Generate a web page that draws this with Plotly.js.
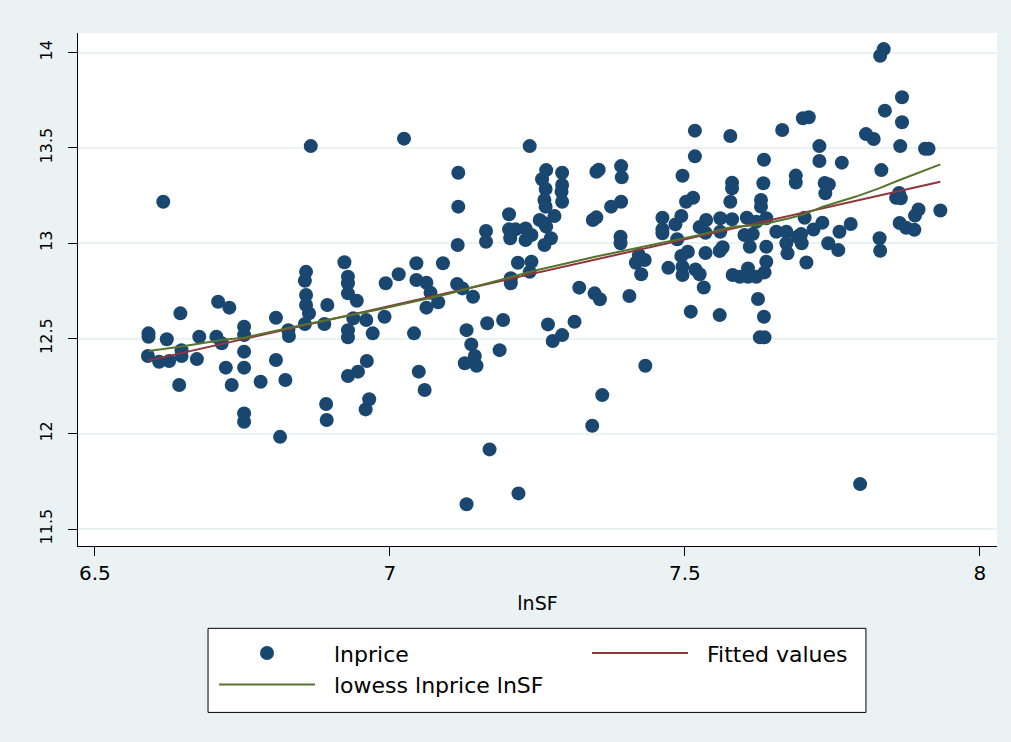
<!DOCTYPE html>
<html><head><meta charset="utf-8">
<script src="https://cdn.plot.ly/plotly-3.0.1.min.js"></script>
<style>html,body{margin:0;padding:0;background:#eaf2f3}</style>
</head><body><div id="chart" style="width:1011px;height:742px"></div>
<script>
const lnSF = [
6.591,6.591,6.590,6.609,6.626,6.622,6.645,6.647,6.647,6.643,
6.673,6.677,6.706,6.715,6.709,6.728,6.722,6.732,6.753,6.753,
6.753,6.753,6.753,6.753,6.781,6.807,6.807,6.823,6.828,6.829,
6.814,6.858,6.856,6.858,6.858,6.863,6.856,6.889,6.894,6.892,
6.893,6.923,6.929,6.929,6.929,6.944,6.938,6.929,6.929,6.929,
6.946,6.961,6.960,6.971,6.965,6.959,6.616,6.866,
6.993,6.991,7.015,7.024,7.045,7.045,7.062,7.069,7.082,7.062,
7.041,7.049,7.059,7.090,7.116,7.116,7.115,7.114,7.123,7.141,
7.130,7.138,7.144,7.127,7.147,7.165,7.192,7.186,7.169,7.130,
7.218,7.163,7.163,7.202,7.202,7.213,7.204,7.230,7.230,7.240,
7.217,7.240,7.237,7.205,7.205,7.237,7.265,7.258,7.264,7.262,
7.264,7.254,7.262,7.279,7.265,7.273,7.262,7.292,7.292,7.291,
7.292,7.268,7.276,7.292,7.313,7.321,7.347,7.356,7.343,7.360,
7.350,7.354,7.344,7.350,
7.375,7.392,7.392,7.393,7.391,7.391,7.406,7.433,7.422,7.432,
7.417,7.426,7.462,7.462,7.462,7.472,7.494,7.484,7.487,7.494,
7.505,7.496,7.496,7.517,7.517,7.496,7.502,7.514,7.525,7.536,
7.535,7.518,7.525,7.532,7.510,7.535,7.559,7.564,7.560,7.560,
7.559,7.577,7.580,7.580,7.577,7.580,7.581,7.593,7.607,7.607,
7.621,7.638,7.635,7.605,7.638,7.601,7.615,7.610,7.638,7.634,
7.633,7.629,7.629,7.624,7.634,7.627,7.635,7.655,7.672,7.672,
7.674,7.691,7.665,7.688,7.688,7.621,
7.700,7.710,7.728,7.728,7.766,7.737,7.744,7.738,7.703,7.697,
7.698,7.718,7.733,7.762,7.781,7.743,7.760,7.706,7.830,7.831,
7.864,7.875,7.889,7.890,7.896,7.933,7.863,7.858,7.866,7.833,
7.865,7.868,7.868,7.839,7.807,7.820,7.907,7.913,7.837,7.831,
7.797
];
const lnprice = [
12.527,12.509,12.408,12.378,12.382,12.496,12.632,12.439,12.408,12.256,
12.392,12.509,12.509,12.475,12.693,12.662,12.347,12.256,12.562,12.518,
12.431,12.347,12.107,12.063,12.273,12.609,12.387,12.282,12.544,12.513,
11.984,12.850,12.803,12.728,12.676,12.632,12.576,12.576,12.676,12.156,
12.072,12.900,12.824,12.790,12.737,12.698,12.606,12.544,12.506,12.303,
12.326,12.382,12.597,12.527,12.181,12.128,13.218,13.510,
12.790,12.614,12.837,13.549,12.895,12.807,12.793,12.740,12.690,12.662,
12.527,12.326,12.230,12.895,13.370,13.192,12.991,12.786,12.763,12.719,
12.544,12.469,12.408,12.370,12.357,12.580,12.597,12.439,11.918,11.630,
11.687,13.064,13.008,13.152,13.073,13.073,13.026,13.078,13.017,13.043,
12.898,12.903,12.850,12.816,12.790,13.510,13.384,13.336,13.285,13.227,
13.192,13.122,13.105,13.143,13.087,13.026,12.991,13.370,13.306,13.270,
13.218,12.574,12.487,12.518,12.588,12.767,12.737,12.706,12.042,12.203,
13.375,13.386,13.122,13.136,
13.192,13.218,13.405,13.346,13.034,13.000,12.723,12.357,12.938,12.912,
12.898,12.837,13.134,13.073,13.052,12.871,13.143,13.099,13.021,12.933,
12.955,12.877,12.833,13.591,13.456,13.354,13.218,13.239,13.085,13.122,
13.055,12.862,12.837,12.768,12.641,12.949,12.959,12.979,13.131,13.060,
12.623,13.563,13.318,13.288,13.218,13.126,12.833,12.824,12.868,12.824,
12.824,12.903,12.847,13.134,13.131,13.043,13.048,12.982,12.982,13.438,
13.315,13.227,13.192,12.707,12.614,12.506,12.506,13.060,13.060,13.000,
12.947,13.034,13.594,13.355,13.319,13.113,
13.656,13.661,13.510,13.432,13.423,13.316,13.309,13.262,13.134,13.048,
13.000,13.072,13.108,13.060,13.101,13.000,12.964,12.899,13.026,12.961,
13.106,13.081,13.071,13.145,13.177,13.172,13.264,13.239,13.236,13.384,
13.510,13.635,13.766,13.696,13.573,13.547,13.496,13.496,14.019,13.984,
11.736
];
const fitX = [6.590, 7.933];
const fitY = [12.384, 13.323];
const lowessX = [6.591,6.644,6.718,6.753,6.85,6.983,7.10,7.25,7.35,7.45,7.525,7.581,7.627,7.677,7.70,7.734,7.79,7.830,7.864,7.933];
const lowessY = [12.435,12.457,12.493,12.504,12.57,12.654,12.735,12.86,12.93,12.995,13.044,13.087,13.096,13.131,13.15,13.192,13.245,13.289,13.332,13.414];
const xTicks = [6.5, 7, 7.5, 8];
const xTickText = ['6.5', '7', '7.5', '8'];
const yTicks = [11.5, 12, 12.5, 13, 13.5, 14];
const yTickText = ['11.5', '12', '12.5', '13', '13.5', '14'];
const seriesNames = ['lnprice', 'Fitted values', 'lowess lnprice lnSF'];

const FONT = 'DejaVu Sans';
const PAD = '\u00a0\u00a0';
const traces = [
  {x: lnSF, y: lnprice, type: 'scatter', mode: 'markers', name: PAD + seriesNames[0],
   marker: {color: '#1a476f', size: 14, line: {width: 0}}},
  {x: fitX, y: fitY, type: 'scatter', mode: 'lines', name: PAD + seriesNames[1],
   line: {color: '#90353b', width: 2}},
  {x: lowessX, y: lowessY, type: 'scatter', mode: 'lines', name: PAD + seriesNames[2],
   line: {color: '#55752f', width: 2}}
];
const layout = {
  width: 1011, height: 742,
  paper_bgcolor: '#eaf2f3', plot_bgcolor: '#ffffff',
  margin: {l: 78, r: 14, t: 33, b: 196.3, pad: 0},
  font: {family: FONT, color: '#000'},
  showlegend: true,
  xaxis: {range: [6.4715, 8.029], tickvals: xTicks, ticktext: xTickText,
    showgrid: false, zeroline: false, showline: true, linecolor: '#000', linewidth: 1,
    ticks: 'outside', ticklen: 9, tickcolor: '#000', tickwidth: 1,
    tickfont: {family: FONT, size: 20, color: '#000'}, ticklabelstandoff: 0,
    title: {text: 'lnSF', font: {family: FONT, size: 19, color: '#000'}, standoff: 12}},
  yaxis: {range: [11.411, 14.1035], tickvals: yTicks, ticktext: yTickText,
    showgrid: true, gridcolor: '#eaf2f3', gridwidth: 1.6, zeroline: false,
    showline: true, linecolor: '#000', linewidth: 1,
    ticks: 'outside', ticklen: 9, tickcolor: '#000', tickwidth: 1, tickangle: -90,
    tickfont: {family: FONT, size: 16, color: '#000'}, ticklabelstandoff: 10},
  legend: {orientation: 'h', x: 0.148, xanchor: 'left', y: -0.168, yanchor: 'top',
    itemwidth: 96, entrywidth: 262, bgcolor: 'rgba(0,0,0,0)', borderwidth: 0,
    font: {family: FONT, size: 22, color: '#000'}, traceorder: 'normal'},
  shapes: [{type: 'rect', xref: 'paper', yref: 'paper', x0: 0.1415, x1: 0.8574, y0: -0.3244, y1: -0.1605,
    line: {color: '#000', width: 1}, fillcolor: '#ffffff', layer: 'below'}]
};
Plotly.newPlot('chart', traces, layout, {displayModeBar: false, responsive: false});
</script></body></html>
